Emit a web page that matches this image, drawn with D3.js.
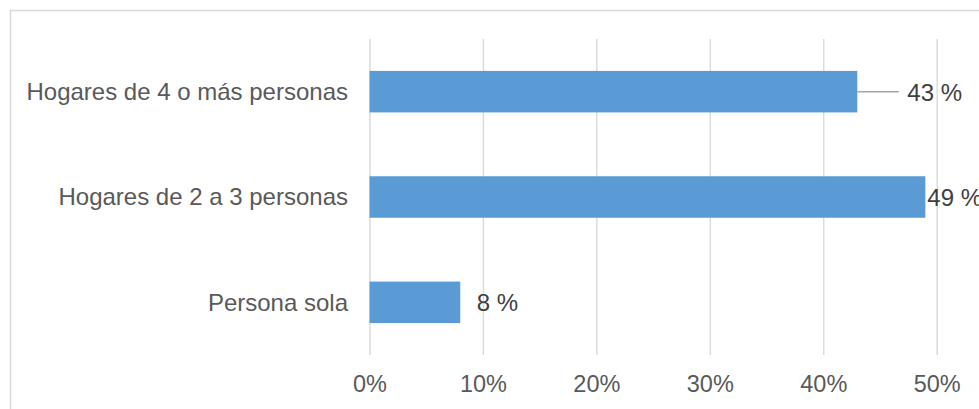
<!DOCTYPE html>
<html>
<head>
<meta charset="utf-8">
<script src="https://cdn.jsdelivr.net/npm/d3@7"></script>
<style>
  html, body { margin: 0; padding: 0; background: #fff; overflow: hidden; }
  svg { display: block; font-family: "Liberation Sans", Arial, sans-serif; }
</style>
</head>
<body>
<svg id="chart" width="979" height="409"></svg>
<script>
// Household size distribution (share of households, %)
const categories = ["Hogares de 4 o más personas", "Hogares de 2 a 3 personas", "Persona sola"];
const values = [43, 49, 8];
const tickValues = [0, 10, 20, 30, 40, 50];

const svg = d3.select("#chart");

// Outer frame of the chart area (runs off the right and bottom edges)
svg.append("rect")
  .attr("x", 10.5).attr("y", 10.5)
  .attr("width", 1000).attr("height", 420)
  .attr("fill", "#fff")
  .attr("stroke", "#d9d9d9")
  .attr("stroke-width", 1.5);

const x = d3.scaleLinear().domain([0, 50]).range([369.5, 936.7]);
const y = d3.scaleBand().domain(categories).range([39, 355])
  .paddingInner(0.606).paddingOuter(0.303);

// Vertical gridlines
const xAxis = d3.axisBottom(x)
  .tickValues(tickValues)
  .tickSize(-(355 - 39))
  .tickPadding(20)
  .tickFormat(d => d + "%");

const gx = svg.append("g")
  .attr("transform", "translate(0,355)")
  .call(xAxis);
gx.select(".domain").remove();
gx.selectAll(".tick line").attr("stroke", "#d9d9d9").attr("stroke-width", 1.4);
gx.selectAll(".tick text")
  .attr("fill", "#595959")
  .attr("font-size", "23.5px")
  .attr("font-family", "'Liberation Sans', Arial, sans-serif")
  .attr("dy", "0")
  .attr("y", 37);

// Category labels
const gy = svg.append("g")
  .attr("transform", "translate(348,0)")
  .call(d3.axisLeft(y).tickSize(0).tickPadding(0));
gy.select(".domain").remove();
gy.selectAll(".tick text")
  .attr("fill", "#595959")
  .attr("font-size", "24px")
  .attr("font-family", "'Liberation Sans', Arial, sans-serif")
  .attr("dy", "0.34em");

// Bars
svg.append("g").selectAll("rect")
  .data(values)
  .join("rect")
  .attr("x", x(0))
  .attr("y", (d, i) => y(categories[i]))
  .attr("width", d => x(d) - x(0))
  .attr("height", y.bandwidth())
  .attr("fill", "#5b9bd5");

// Data labels; the first one sits further out with a leader line
const labelGap = [50, 2, 16.5];
const leader = svg.append("g");
values.forEach((d, i) => {
  const cy = y(categories[i]) + y.bandwidth() / 2;
  if (labelGap[i] > 20) {
    leader.append("line")
      .attr("x1", x(d)).attr("x2", x(d) + labelGap[i] - 8.5)
      .attr("y1", cy).attr("y2", cy)
      .attr("stroke", "#a6a6a6")
      .attr("stroke-width", 1.5);
  }
});

svg.append("g").selectAll("text")
  .data(values)
  .join("text")
  .attr("x", (d, i) => x(d) + labelGap[i])
  .attr("y", (d, i) => y(categories[i]) + y.bandwidth() / 2)
  .attr("dy", "0.37em")
  .attr("fill", "#404040")
  .attr("font-size", "24px")
  .text(d => d + " %");
</script>
</body>
</html>
